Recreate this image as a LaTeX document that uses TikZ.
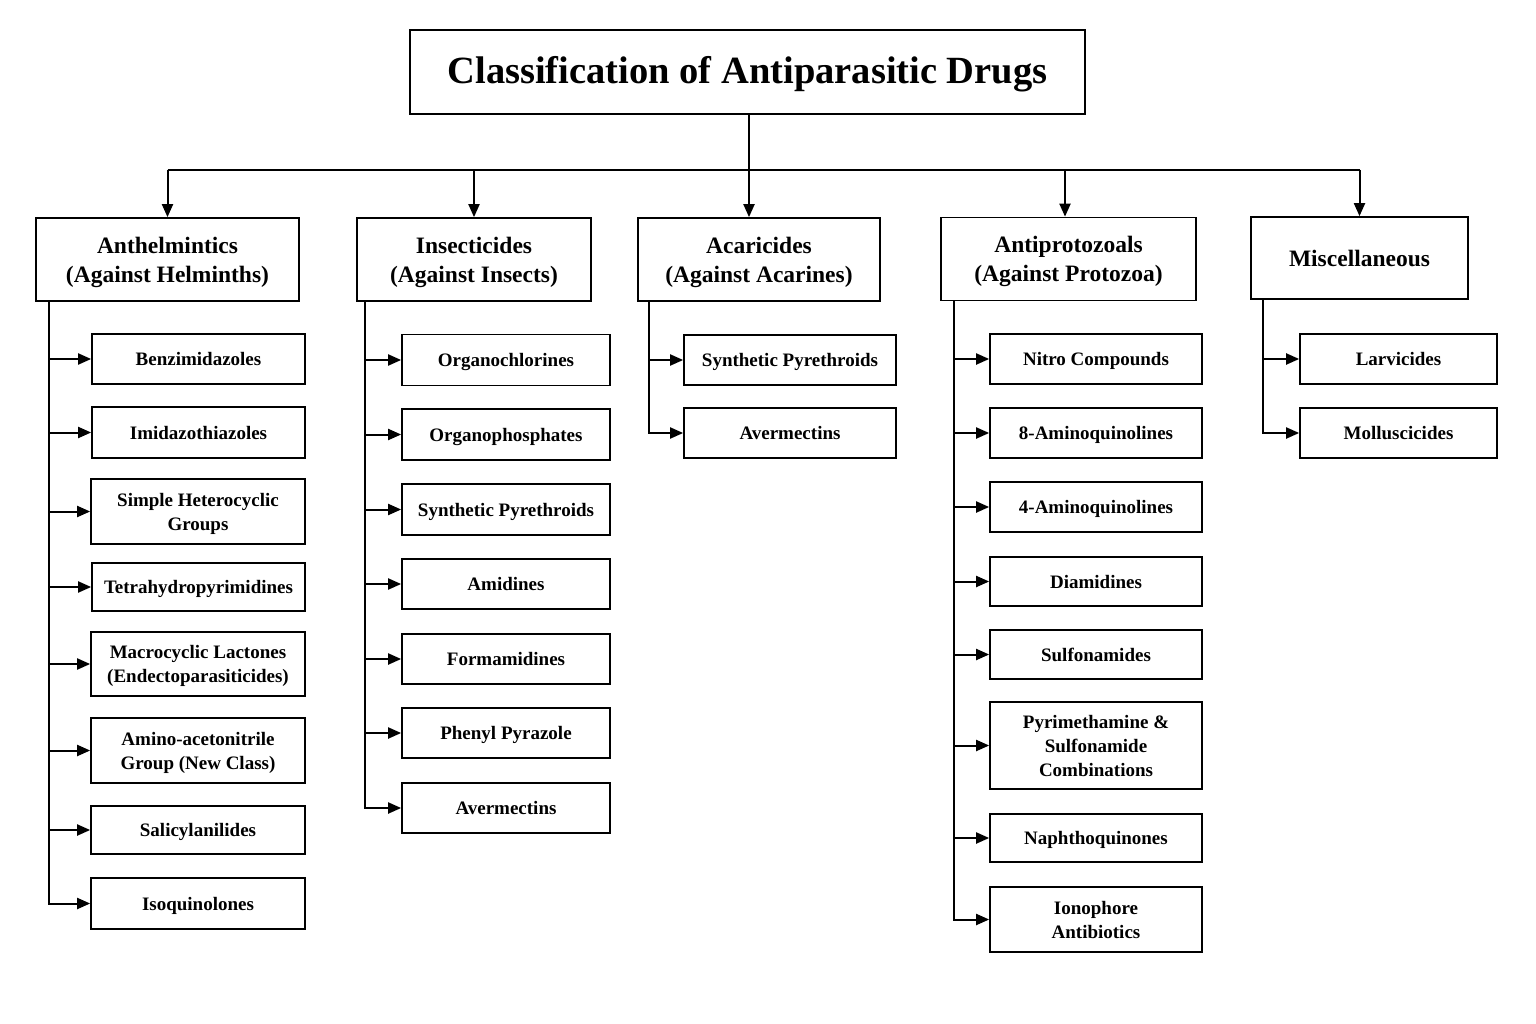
\documentclass[tikz,border=0pt]{standalone}
\usepackage{fontspec}
\setmainfont{Liberation Serif}
\usetikzlibrary{arrows.meta}
\newcommand\chstrut{\rule[-4.5pt]{0pt}{22pt}}
\newcommand\catstrut{\rule[-5pt]{0pt}{26.6pt}}
\newcommand\ttlstrut{\rule[-8pt]{0pt}{39pt}}
\tikzset{
  box/.style={draw=black, line width=1.7pt, align=center, inner sep=0pt, fill=white},
  titlebox/.style={box, font=\fontsize{38.5}{46}\selectfont\bfseries},
  catbox/.style={box, font=\fontsize{23.5}{29}\selectfont\bfseries},
  childbox/.style={box, font=\fontsize{19}{24}\selectfont\bfseries},
  conn/.style={draw=black, line width=2pt},
  arr/.style={conn, -{Triangle[length=13pt,width=11pt]}},
  sarr/.style={conn, -{Triangle[length=13pt,width=11pt]}}
}
\begin{document}
\begin{tikzpicture}[x=1pt,y=-1pt]
\useasboundingbox[fill=white] (0,0) rectangle (1536,1024);

% title
\node[titlebox, minimum width=675pt, minimum height=84pt] (title) at (747.5,72) {\ttlstrut Classification of Antiparasitic Drugs};

% categories
\node[catbox, minimum width=263pt, minimum height=83pt] (anth) at (167.5,259.5) {\catstrut Anthelmintics\\(Against Helminths)\catstrut};
\node[catbox, minimum width=234pt, minimum height=83pt] (insect) at (474,259.5) {\catstrut Insecticides\\(Against Insects)\catstrut};
\node[catbox, minimum width=242pt, minimum height=83pt] (acar) at (759,259.5) {\catstrut Acaricides\\(Against Acarines)\catstrut};
\node[catbox, minimum width=255pt, minimum height=83pt] (antip) at (1068.5,259) {\catstrut Antiprotozoals\\(Against Protozoa)\catstrut};
\node[catbox, minimum width=217pt, minimum height=82pt] (misc) at (1359.5,258) {\catstrut Miscellaneous};

% top connectors
\coordinate (bus) at (749,170);
\draw[conn] (title.south -| bus) -- (bus);
\draw[conn] (anth.north |- bus) -- (misc.north |- bus);
\draw[arr] (anth.north |- bus) -- (anth.north);
\draw[arr] (insect.north |- bus) -- (insect.north);
\draw[arr] (bus) -- (bus |- acar.north);
\draw[arr] ([xshift=-3.5pt]antip.north |- bus) -- ([xshift=-3.5pt]antip.north);
\draw[arr] (misc.north |- bus) -- (misc.north);

% Anthelmintics children
\node[childbox, minimum width=213pt, minimum height=50pt] (a1) at (198.5,359) {\chstrut Benzimidazoles};
\node[childbox, minimum width=213pt, minimum height=51pt] (a2) at (198.5,432.5) {\chstrut Imidazothiazoles};
\node[childbox, minimum width=214pt, minimum height=65pt] (a3) at (198,511.5) {\chstrut Simple Heterocyclic\\Groups\chstrut};
\node[childbox, minimum width=213pt, minimum height=48pt] (a4) at (198.5,587) {\chstrut Tetrahydropyrimidines};
\node[childbox, minimum width=214pt, minimum height=64pt] (a5) at (198,664) {\chstrut Macrocyclic Lactones\\(Endectoparasiticides)\chstrut};
\node[childbox, minimum width=214pt, minimum height=65pt] (a6) at (198,750.5) {\chstrut Amino-acetonitrile\\Group (New Class)\chstrut};
\node[childbox, minimum width=214pt, minimum height=48pt] (a7) at (198,830) {\chstrut Salicylanilides};
\node[childbox, minimum width=214pt, minimum height=51pt] (a8) at (198,903.5) {\chstrut Isoquinolones};
\coordinate (tA) at ([xshift=14pt]anth.south west);
\foreach \c in {a1,a2,a3,a4,a5,a6,a7,a8} \draw[sarr] (tA) |- (\c.west);

% Insecticides children
\node[childbox, minimum width=208pt, minimum height=51pt] (i1) at (506,360) {\chstrut Organochlorines};
\node[childbox, minimum width=208pt, minimum height=51pt] (i2) at (506,434.5) {\chstrut Organophosphates};
\node[childbox, minimum width=208pt, minimum height=51pt] (i3) at (506,509.5) {\chstrut Synthetic Pyrethroids};
\node[childbox, minimum width=208pt, minimum height=50pt] (i4) at (506,584) {\chstrut Amidines};
\node[childbox, minimum width=208pt, minimum height=50pt] (i5) at (506,659) {\chstrut Formamidines};
\node[childbox, minimum width=208pt, minimum height=50pt] (i6) at (506,733) {\chstrut Phenyl Pyrazole};
\node[childbox, minimum width=208pt, minimum height=50pt] (i7) at (506,808) {\chstrut Avermectins};
\coordinate (tI) at ([xshift=9pt]insect.south west);
\foreach \c in {i1,i2,i3,i4,i5,i6,i7} \draw[sarr] (tI) |- (\c.west);

% Acaricides children
\node[childbox, minimum width=212pt, minimum height=50pt] (c1) at (790,360) {\chstrut Synthetic Pyrethroids};
\node[childbox, minimum width=212pt, minimum height=50pt] (c2) at (790,433) {\chstrut Avermectins};
\coordinate (tC) at ([xshift=12pt]acar.south west);
\foreach \c in {c1,c2} \draw[sarr] (tC) |- (\c.west);

% Antiprotozoals children
\node[childbox, minimum width=212pt, minimum height=50pt] (p1) at (1096,359) {\chstrut Nitro Compounds};
\node[childbox, minimum width=212pt, minimum height=50pt] (p2) at (1096,433) {\chstrut 8-Aminoquinolines};
\node[childbox, minimum width=212pt, minimum height=50pt] (p3) at (1096,507) {\chstrut 4-Aminoquinolines};
\node[childbox, minimum width=212pt, minimum height=49pt] (p4) at (1096,581.5) {\chstrut Diamidines};
\node[childbox, minimum width=212pt, minimum height=49pt] (p5) at (1096,654.5) {\chstrut Sulfonamides};
\node[childbox, minimum width=212pt, minimum height=87pt] (p6) at (1096,745.5) {\chstrut Pyrimethamine \&\\Sulfonamide\\Combinations\chstrut};
\node[childbox, minimum width=212pt, minimum height=48pt] (p7) at (1096,838) {\chstrut Naphthoquinones};
\node[childbox, minimum width=212pt, minimum height=65pt] (p8) at (1096,919.5) {\chstrut Ionophore\\Antibiotics\chstrut};
\coordinate (tP) at ([xshift=14pt]antip.south west);
\foreach \c in {p1,p2,p3,p4,p5,p6,p7,p8} \draw[sarr] (tP) |- (\c.west);

% Miscellaneous children
\node[childbox, minimum width=197pt, minimum height=50pt] (m1) at (1398.5,359) {\chstrut Larvicides};
\node[childbox, minimum width=197pt, minimum height=50pt] (m2) at (1398.5,433) {\chstrut Molluscicides};
\coordinate (tM) at ([xshift=13pt]misc.south west);
\foreach \c in {m1,m2} \draw[sarr] (tM) |- (\c.west);
\end{tikzpicture}
\end{document}
